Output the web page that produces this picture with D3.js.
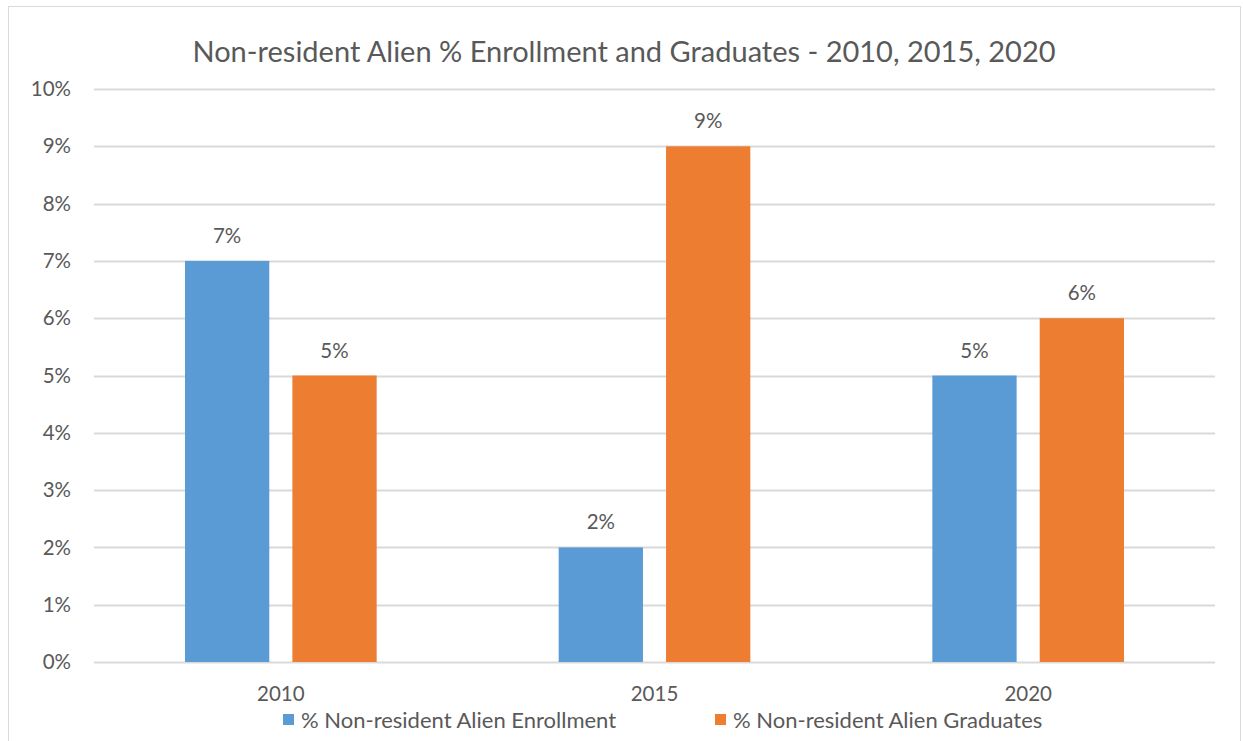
<!DOCTYPE html>
<html>
<head>
<meta charset="utf-8">
<script src="https://cdn.jsdelivr.net/npm/d3@7"></script>
<style>
body { margin: 0; background: #fff; }
text { font-family: Lato, "Open Sans", sans-serif; fill: #595959; }
</style>
</head>
<body>
<div id="chart"></div>
<script>
var years = ["2010", "2015", "2020"];
var seriesNames = ["% Non-resident Alien Enrollment", "% Non-resident Alien Graduates"];
var enrollment = [0.07, 0.02, 0.05];
var graduates = [0.05, 0.09, 0.06];
var yTicks = [0, 0.01, 0.02, 0.03, 0.04, 0.05, 0.06, 0.07, 0.08, 0.09, 0.10];

var W = 1243, H = 741;
var margin = {top: 89, right: 28, bottom: 79, left: 94},
    width = W - margin.left - margin.right,
    height = H - margin.top - margin.bottom;

var root = d3.select("#chart").append("svg")
  .attr("width", W).attr("height", H);

// outer frame
root.append("rect")
  .attr("x", 8.5).attr("y", 6.5)
  .attr("width", 1232).attr("height", 740)
  .attr("fill", "none").attr("stroke", "#d9d9d9");

root.append("text")
  .attr("x", 624).attr("y", 62)
  .attr("text-anchor", "middle")
  .style("font-size", "29px")
  .text("Non-resident Alien % Enrollment and Graduates - 2010, 2015, 2020");

var svg = root.append("g")
  .attr("transform", "translate(" + margin.left + "," + margin.top + ")");

var y = d3.scaleLinear().domain([0, 0.10]).range([height, 0]);

var x = d3.scaleBand().domain(years).range([0, width]).padding(0);

var xSub = d3.scaleBand()
  .domain(seriesNames)
  .range([91, x.bandwidth() - 91])
  .paddingInner(0.215);

var color = d3.scaleOrdinal().domain(seriesNames).range(["#5b9bd5", "#ed7d31"]);

// gridlines
svg.append("g")
  .selectAll("line")
  .data(yTicks)
  .enter().append("line")
  .attr("x1", 0).attr("x2", width)
  .attr("y1", function(d) { return Math.round(y(d)) + 0.5; })
  .attr("y2", function(d) { return Math.round(y(d)) + 0.5; })
  .attr("stroke", "#d9d9d9")
  .attr("stroke-width", 2);

// y labels
svg.append("g")
  .selectAll("text")
  .data(yTicks)
  .enter().append("text")
  .attr("x", -23)
  .attr("y", function(d) { return y(d); })
  .attr("dy", "0.35em")
  .attr("text-anchor", "end")
  .style("font-size", "20.5px")
  .text(function(d) { return d3.format(".0%")(d); });

var rows = years.map(function(yr, i) {
  return {year: yr, values: [
    {key: seriesNames[0], value: enrollment[i]},
    {key: seriesNames[1], value: graduates[i]}
  ]};
});

var groups = svg.append("g")
  .selectAll("g")
  .data(rows)
  .enter().append("g")
  .attr("transform", function(d) { return "translate(" + x(d.year) + ",0)"; });

groups.selectAll("rect")
  .data(function(d) { return d.values; })
  .enter().append("rect")
  .attr("x", function(d) { return xSub(d.key); })
  .attr("y", function(d) { return y(d.value); })
  .attr("width", xSub.bandwidth())
  .attr("height", function(d) { return height - y(d.value); })
  .attr("fill", function(d) { return color(d.key); });

groups.selectAll("text.lbl")
  .data(function(d) { return d.values; })
  .enter().append("text")
  .attr("class", "lbl")
  .attr("x", function(d) { return xSub(d.key) + xSub.bandwidth() / 2; })
  .attr("y", function(d) { return y(d.value) - 18; })
  .attr("text-anchor", "middle")
  .style("font-size", "20.5px")
  .text(function(d) { return d3.format(".0%")(d.value); });

// x labels
svg.append("g")
  .selectAll("text")
  .data(years)
  .enter().append("text")
  .attr("x", function(d) { return x(d) + x.bandwidth() / 2; })
  .attr("y", height + 39)
  .attr("text-anchor", "middle")
  .style("font-size", "20.5px")
  .text(function(d) { return d; });

// legend
var legendX = [283, 715];
var legend = root.append("g")
  .selectAll("g")
  .data(seriesNames)
  .enter().append("g")
  .attr("transform", function(d, i) { return "translate(" + legendX[i] + ",714)"; });
legend.append("rect")
  .attr("width", 11).attr("height", 11)
  .attr("fill", function(d) { return color(d); });
legend.append("text")
  .attr("x", 18).attr("y", 6)
  .attr("dy", "0.35em")
  .style("font-size", "22px")
  .text(function(d) { return d; });
</script>
</body>
</html>
